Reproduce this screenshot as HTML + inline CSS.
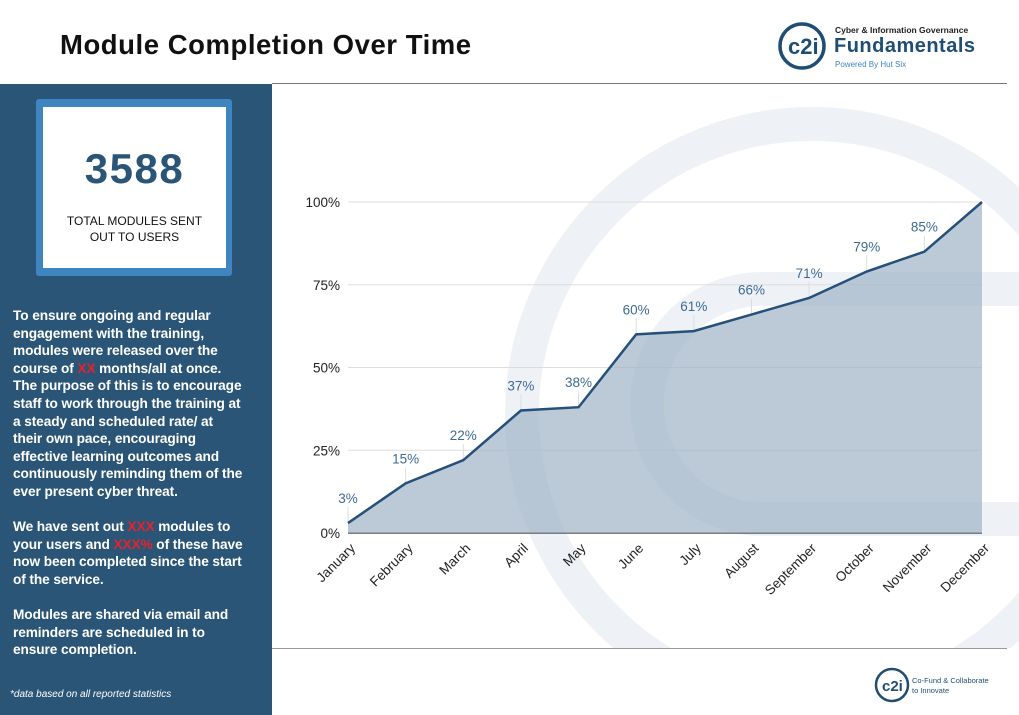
<!DOCTYPE html>
<html><head><meta charset="utf-8"><style>
*{margin:0;padding:0;box-sizing:border-box}
body{width:1019px;height:715px;overflow:hidden;background:#fff;font-family:"Liberation Sans",sans-serif;position:relative}
.abs{position:absolute}
#panel{left:0;top:84px;width:272px;height:631px;background:#2a5577}
#box{left:36px;top:99px;width:196px;height:177px;background:#3f86c0;border-radius:3px}
#boxin{left:43px;top:107px;width:183px;height:161px;background:#fff}
#txt{left:13px;top:307px;width:258px;color:#fff;font-weight:bold;font-size:13.7px;line-height:17.6px;letter-spacing:-0.1px}
.red{color:#e8222a}
</style></head><body>
<div class="abs" style="left:60px;top:29px;font-size:27.5px;font-weight:bold;color:#111;letter-spacing:0.55px">Module Completion Over Time</div>
<div class="abs" style="left:272px;top:83px;width:735px;height:1px;background:#777"></div>
<div class="abs" style="left:272px;top:648px;width:735px;height:1px;background:#999"></div>
<svg class="abs" style="left:775px;top:20px" width="240" height="56">
<circle cx="27" cy="26" r="22" fill="none" stroke="#1f4e75" stroke-width="3.5"/>
<text x="13" y="34" font-size="22" font-weight="bold" fill="#1f4e75" font-family="Liberation Sans">c2i</text>
<text x="60" y="13" font-size="8.5" font-weight="bold" fill="#222">Cyber &amp; Information Governance</text>
<text x="59" y="32" font-size="20" font-weight="bold" fill="#1f4e75" textLength="141">Fundamentals</text>
<text x="60" y="47" font-size="8" fill="#3f86c0">Powered By Hut Six</text>
</svg>
<svg class="abs" style="left:873px;top:666px" width="146" height="40">
<circle cx="19" cy="19" r="16" fill="none" stroke="#1f4e75" stroke-width="2.5"/>
<text x="9" y="25" font-size="15" font-weight="bold" fill="#1f4e75">c2i</text>
<text x="39" y="17" font-size="7.5" fill="#1f4e75">Co-Fund &amp; Collaborate</text>
<text x="39" y="27" font-size="7.5" fill="#1f4e75">to Innovate</text>
</svg>
<div class="abs" id="panel"></div>
<div class="abs" id="box"></div>
<div class="abs" id="boxin"></div>
<div class="abs" style="left:43px;top:145px;width:183px;text-align:center;font-size:42px;font-weight:bold;color:#2a5577;letter-spacing:1.5px">3588</div>
<div class="abs" style="left:43px;top:213px;width:183px;text-align:center;font-size:12px;line-height:16px;color:#111">TOTAL MODULES SENT<br>OUT TO USERS</div>
<div class="abs" id="txt">To ensure ongoing and regular<br>engagement with the training,<br>modules were released over the<br>course of <span class="red">XX</span> months/all at once.<br>The purpose of this is to encourage<br>staff to work through the training at<br>a steady and scheduled rate/ at<br>their own pace, encouraging<br>effective learning outcomes and<br>continuously reminding them of the<br>ever present cyber threat.<br><br>We have sent out <span class="red">XXX</span> modules to<br>your users and <span class="red">XXX%</span> of these have<br>now been completed since the start<br>of the service.<br><br>Modules are shared via email and<br>reminders are scheduled in to<br>ensure completion.</div>
<div class="abs" style="left:10px;top:689px;font-size:10px;font-style:italic;color:#fff">*data based on all reported statistics</div>
<svg class="abs" id="chart" style="left:272px;top:84px" width="747" height="564"></svg>
<script>
const months=["January","February","March","April","May","June","July","August","September","October","November","December"];
const values=[3,15,22,37,38,60,61,66,71,79,85,100];
const labels=["3%","15%","22%","37%","38%","60%","61%","66%","71%","79%","85%",""];
const yTicks=[0,25,50,75,100];
const svg=document.getElementById('chart');
const NS="http://www.w3.org/2000/svg";
const X0=76,X1=710,Y0=449,Y1=118;
const x=i=>X0+(X1-X0)*i/(months.length-1);
const y=v=>Y0-(Y0-Y1)*v/100;
function mk(t,a,p){const e=document.createElementNS(NS,t);for(const k in a)e.setAttribute(k,a[k]);(p||svg).appendChild(e);return e;}
const wm=mk('g',{});


mk('circle',{cx:540,cy:330,r:290,fill:'none',stroke:'#e3eaf0',"stroke-width":34,opacity:0.6},wm);
mk('path',{d:'M760 205 H490 A115 115 0 0 0 490 435 H760',fill:'none',stroke:'#e3eaf0',"stroke-width":34,opacity:0.6},wm);
yTicks.forEach(t=>{
 const g=mk('line',{x1:X0,x2:X1,y1:y(t),y2:y(t),stroke:t===0?'#555':'#ddd',"stroke-width":t===0?1.5:1});
 
 
 const l=mk('text',{x:X0-8,y:y(t)+5,"text-anchor":"end","font-size":13.5,fill:'#222'});
 l.textContent=t+'%';
 
 
});
let d='M'+x(0)+' '+Y0;
values.forEach((v,i)=>d+=' L'+x(i)+' '+y(v));
d+=' L'+x(values.length-1)+' '+Y0+' Z';
const area=mk('path',{d:d,fill:'#9fb4c8',opacity:0.7});


values.forEach((v,i)=>{
 if(labels[i]){
  const ld=mk('line',{x1:x(i),x2:x(i),y1:y(v)-16,y2:y(v),stroke:'#ddd',"stroke-width":1});
  
  
 }
});
const line=mk('polyline',{points:values.map((v,i)=>x(i)+','+y(v)).join(' '),fill:'none',stroke:'#25507a',"stroke-width":2.5});


values.forEach((v,i)=>{
 if(labels[i]){
  const t=mk('text',{x:x(i),y:y(v)-20,"text-anchor":"middle","font-size":13.5,fill:'#3d6a94'});
  t.textContent=labels[i];
  
  
 }
 const m=mk('text',{x:x(i)+8,y:Y0+16,"text-anchor":"end","font-size":13.5,fill:'#222',transform:`rotate(-45 ${x(i)+8} ${Y0+16})`});
 m.textContent=months[i];
 
 
});
</script>
</body></html>
